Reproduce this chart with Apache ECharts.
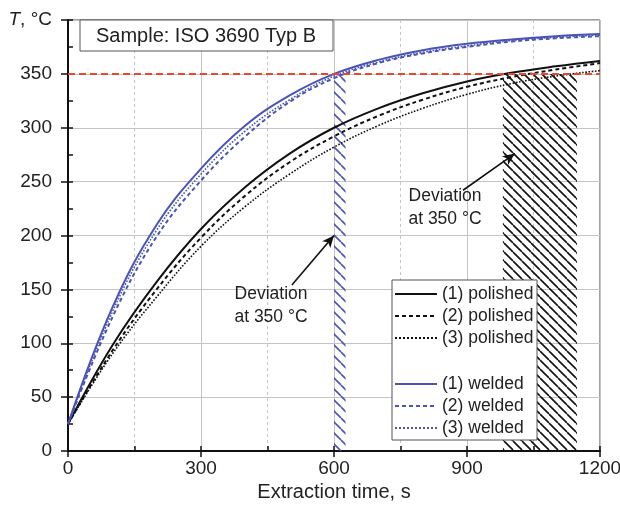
<!DOCTYPE html>
<html>
<head>
<meta charset="utf-8">
<script src="https://cdn.jsdelivr.net/npm/echarts@6/dist/echarts.min.js"></script>
<style>
  html, body { margin: 0; padding: 0; background: #fff; }
  #chart { width: 620px; height: 510px; }
</style>
</head>
<body>
<div id="chart"></div>
<script>
// 数据
const times     = [0, 100, 200, 300, 400, 500, 600, 700, 800, 900, 1000, 1100, 1200]
const polished1 = [25, 98, 157, 206, 245, 276, 300, 318, 332, 343, 351, 357, 362]
const polished2 = [25, 93, 150, 198, 237, 268, 292, 311, 326, 338, 347, 354, 360]
const polished3 = [25, 90, 143, 190, 227, 257, 282, 302, 318, 331, 341, 348, 353]
const welded1   = [25, 133, 210, 262, 302, 330, 350, 363, 372, 378, 382, 385, 387]
const welded2   = [25, 124, 199, 251, 292, 324, 346, 360, 369, 375, 380, 383, 385]
const welded3   = [25, 129, 205, 257, 297, 326, 348, 361, 370, 376, 381, 384, 386]
const refTemp = 350
const weldedDev = [600, 626]      // 蓝色阴影区
const polishedDev = [981, 1148]   // 黑色阴影区
const arrowLow = [[505, 154], [600, 200]]
const arrowHigh = [[891, 242], [1008, 276]]

const font = 'Liberation Sans, Arial, sans-serif'
const blue = '#4a54b6'
const black = '#111'

// 斜线填充
function hatch(color, step, lw){
    let c = document.createElement('canvas')
    c.width = step; c.height = step
    let g = c.getContext('2d')
    g.strokeStyle = color
    g.lineWidth = lw
    g.beginPath()
    for(let x0 of [-step, 0, step]){
        g.moveTo(x0, 0)
        g.lineTo(x0 + step, step)
    }
    g.stroke()
    return {image: c, repeat: 'repeat'}
}

function line(name, vals, color, type, width){
    return {
        name: name,
        type: 'line',
        data: times.map((t, i) => [t, vals[i]]),
        smooth: 0.4,
        symbol: 'none',
        lineStyle: {color: color, type: type, width: width},
        itemStyle: {color: color},
        z: 3
    }
}

let chart = echarts.init(document.getElementById('chart'))

let legendBase = {
    orient: 'vertical', left: 394, padding: 0,
    itemWidth: 42, itemHeight: 14, itemGap: 4,
    selectedMode: false, z: 60,
    itemStyle: {opacity: 0},
    textStyle: {fontSize: 17.5, color: '#222', fontFamily: font, padding: [0, 0, 0, 0]}
}

let option = {
    animation: false,
    grid: {
        left: 68, right: 20, top: 20, bottom: 59,
        outerBoundsMode: 'none',
        show: true, borderColor: '#444', borderWidth: 1
    },
    xAxis: [{
        type: 'value', min: 0, max: 1200, interval: 300,
        name: 'Extraction time, s', nameLocation: 'middle', nameGap: 31,
        nameTextStyle: {fontSize: 20, color: '#222', fontFamily: font},
        axisLine: {lineStyle: {color: black, width: 2}},
        axisTick: {length: 6, lineStyle: {color: black, width: 1.5}},
        axisLabel: {fontSize: 19, color: '#222', fontFamily: font, margin: 8, formatter: v => String(v)},
        splitLine: {lineStyle: {color: '#c4c4c4', width: 1}},
        minorTick: {show: false, splitNumber: 2},
        minorSplitLine: {show: true, lineStyle: {color: '#c4c4c4', type: [3, 3], width: 1}}
    }, {
        type: 'value', min: 0, max: 1200, interval: 150, position: 'bottom',
        axisLine: {show: false},
        axisTick: {inside: true, length: 5, lineStyle: {color: black, width: 1.5}},
        axisLabel: {show: false},
        splitLine: {show: false}
    }],
    yAxis: [{
        type: 'value', min: 0, max: 400, interval: 50,
        axisLine: {show: true, lineStyle: {color: black, width: 2}},
        axisTick: {show: true, length: 7, lineStyle: {color: black, width: 1.5}},
        axisLabel: {
            fontSize: 19, color: '#222', fontFamily: font, margin: 16,
            formatter: v => v === 400 ? '{it|T}, °C' : v,
            rich: {it: {fontStyle: 'italic', fontSize: 19, fontFamily: font, color: '#222'}}
        },
        splitLine: {lineStyle: {color: '#c4c4c4', width: 1}}
    }, {
        type: 'value', min: 0, max: 400, interval: 25, position: 'left',
        axisLine: {show: false},
        axisTick: {show: true, inside: true, length: 5, lineStyle: {color: black, width: 1.5}},
        axisLabel: {show: false},
        splitLine: {show: false}
    }],
    legend: [
        Object.assign({}, legendBase, {data: ['(1) polished', '(2) polished', '(3) polished'], top: 285}),
        Object.assign({}, legendBase, {data: ['(1) welded', '(2) welded', '(3) welded'], top: 375})
    ],
    graphic: [
        {type: 'rect', z: 50, shape: {x: 80, y: 20, width: 253, height: 31},
            style: {fill: '#fff', stroke: '#555', lineWidth: 1}},
        {type: 'text', z: 51, x: 206, y: 36,
            style: {text: 'Sample: ISO 3690 Typ B', font: '20px ' + font, fill: '#222',
                align: 'center', verticalAlign: 'middle'}},
        {type: 'rect', z: 50, shape: {x: 392, y: 280, width: 145, height: 160},
            style: {fill: '#fff', stroke: '#555', lineWidth: 1}},
        {type: 'text', z: 51, x: 271, y: 306,
            style: {text: 'Deviation\nat 350 °C', font: '17.5px ' + font, fill: '#222',
                align: 'center', verticalAlign: 'middle', lineHeight: 23}},
        {type: 'text', z: 51, x: 445, y: 208,
            style: {text: 'Deviation\nat 350 °C', font: '17.5px ' + font, fill: '#222',
                align: 'center', verticalAlign: 'middle', lineHeight: 23}}
    ],
    series: [
        {
            name: 'hatch', type: 'line', data: [], z: 1,
            markArea: {
                silent: true,
                data: [
                    [{xAxis: weldedDev[0], yAxis: 0, itemStyle: {color: hatch(blue, 11, 1.6)}},
                     {xAxis: weldedDev[1], yAxis: refTemp}],
                    [{xAxis: polishedDev[0], yAxis: 0, itemStyle: {color: hatch(black, 9, 1.6)}},
                     {xAxis: polishedDev[1], yAxis: refTemp}]
                ]
            }
        },
        line('(1) polished', polished1, black, 'solid', 2),
        line('(2) polished', polished2, black, [4, 3], 2),
        line('(3) polished', polished3, black, 'dotted', 1.6),
        line('(1) welded', welded1, blue, 'solid', 2),
        line('(2) welded', welded2, blue, [4, 3], 2),
        line('(3) welded', welded3, blue, 'dotted', 1.6),
        {
            name: 'ref', type: 'line', data: [], z: 4,
            markLine: {
                silent: true, symbol: ['none', 'none'], label: {show: false},
                lineStyle: {color: '#e8492c', type: [7, 4], width: 2},
                data: [{yAxis: refTemp}]
            }
        },
        {
            name: 'arrows', type: 'line', data: [], z: 5,
            markLine: {
                silent: true, symbol: ['none', 'arrow'], symbolSize: [8, 12],
                label: {show: false},
                lineStyle: {color: black, type: 'solid', width: 1.6},
                data: [
                    [{coord: arrowLow[0]}, {coord: arrowLow[1]}],
                    [{coord: arrowHigh[0]}, {coord: arrowHigh[1]}]
                ]
            }
        }
    ]
}

chart.setOption(option)
</script>
</body>
</html>
